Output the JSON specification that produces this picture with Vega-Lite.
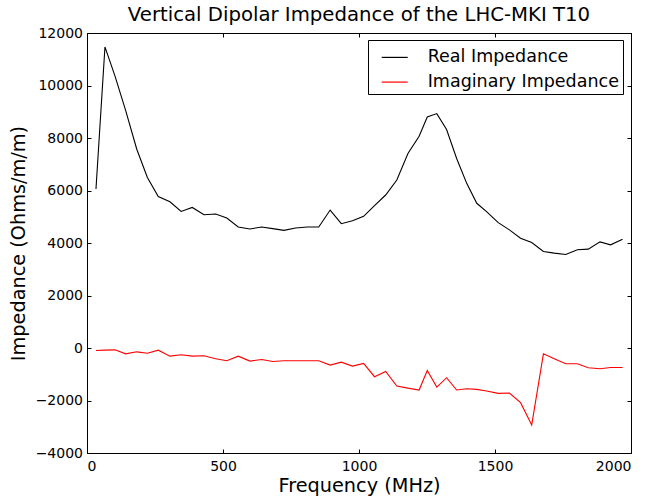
{
  "$schema": "https://vega.github.io/schema/vega-lite/v6.json",
  "width": 544,
  "height": 420,
  "autosize": {"type": "none"},
  "padding": {"left": 87, "top": 33, "right": 23, "bottom": 46},
  "background": "white",
  "title": {"text": "Vertical Dipolar Impedance of the LHC-MKI T10", "fontSize": 19.7, "font": "DejaVu Sans", "fontWeight": "normal", "color": "black", "offset": 1, "anchor": "middle"},
  "config": {
    "view": {"stroke": "black", "strokeWidth": 1},
    "font": "DejaVu Sans",
    "axis": {"grid": false, "domainColor": "black", "tickColor": "black", "labelColor": "black", "titleColor": "black", "labelFont": "DejaVu Sans", "titleFont": "DejaVu Sans", "labelFontSize": 14, "titleFontSize": 19.3, "titleFontWeight": "normal", "tickSize": -4, "labelPadding": 8}
  },
  "datasets": {
    "imp": [
      {"f": 33, "s": "Real Impedance", "z": 6054},
      {"f": 66, "s": "Real Impedance", "z": 11470},
      {"f": 103, "s": "Real Impedance", "z": 10357},
      {"f": 142, "s": "Real Impedance", "z": 9054},
      {"f": 183, "s": "Real Impedance", "z": 7573},
      {"f": 222, "s": "Real Impedance", "z": 6494},
      {"f": 262, "s": "Real Impedance", "z": 5773},
      {"f": 305, "s": "Real Impedance", "z": 5571},
      {"f": 346, "s": "Real Impedance", "z": 5203},
      {"f": 387, "s": "Real Impedance", "z": 5355},
      {"f": 430, "s": "Real Impedance", "z": 5078},
      {"f": 473, "s": "Real Impedance", "z": 5103},
      {"f": 514, "s": "Real Impedance", "z": 4951},
      {"f": 556, "s": "Real Impedance", "z": 4610},
      {"f": 599, "s": "Real Impedance", "z": 4534},
      {"f": 642, "s": "Real Impedance", "z": 4610},
      {"f": 683, "s": "Real Impedance", "z": 4546},
      {"f": 724, "s": "Real Impedance", "z": 4482},
      {"f": 767, "s": "Real Impedance", "z": 4572},
      {"f": 810, "s": "Real Impedance", "z": 4610},
      {"f": 852, "s": "Real Impedance", "z": 4610},
      {"f": 894, "s": "Real Impedance", "z": 5255},
      {"f": 935, "s": "Real Impedance", "z": 4736},
      {"f": 976, "s": "Real Impedance", "z": 4850},
      {"f": 1017, "s": "Real Impedance", "z": 5015},
      {"f": 1057, "s": "Real Impedance", "z": 5423},
      {"f": 1098, "s": "Real Impedance", "z": 5828},
      {"f": 1139, "s": "Real Impedance", "z": 6397},
      {"f": 1180, "s": "Real Impedance", "z": 7410},
      {"f": 1221, "s": "Real Impedance", "z": 8067},
      {"f": 1251, "s": "Real Impedance", "z": 8801},
      {"f": 1286, "s": "Real Impedance", "z": 8930},
      {"f": 1322, "s": "Real Impedance", "z": 8322},
      {"f": 1359, "s": "Real Impedance", "z": 7221},
      {"f": 1396, "s": "Real Impedance", "z": 6272},
      {"f": 1433, "s": "Real Impedance", "z": 5513},
      {"f": 1469, "s": "Real Impedance", "z": 5194},
      {"f": 1512, "s": "Real Impedance", "z": 4776},
      {"f": 1553, "s": "Real Impedance", "z": 4499},
      {"f": 1594, "s": "Real Impedance", "z": 4184},
      {"f": 1635, "s": "Real Impedance", "z": 4017},
      {"f": 1678, "s": "Real Impedance", "z": 3676},
      {"f": 1718, "s": "Real Impedance", "z": 3614},
      {"f": 1760, "s": "Real Impedance", "z": 3561},
      {"f": 1803, "s": "Real Impedance", "z": 3740},
      {"f": 1843, "s": "Real Impedance", "z": 3766},
      {"f": 1886, "s": "Real Impedance", "z": 4043},
      {"f": 1925, "s": "Real Impedance", "z": 3929},
      {"f": 1969, "s": "Real Impedance", "z": 4146},
      {"f": 33, "s": "Imaginary Impedance", "z": -95},
      {"f": 66, "s": "Imaginary Impedance", "z": -82},
      {"f": 103, "s": "Imaginary Impedance", "z": -70},
      {"f": 142, "s": "Imaginary Impedance", "z": -222},
      {"f": 183, "s": "Imaginary Impedance", "z": -146},
      {"f": 222, "s": "Imaginary Impedance", "z": -197},
      {"f": 262, "s": "Imaginary Impedance", "z": -82},
      {"f": 305, "s": "Imaginary Impedance", "z": -310},
      {"f": 346, "s": "Imaginary Impedance", "z": -260},
      {"f": 387, "s": "Imaginary Impedance", "z": -310},
      {"f": 430, "s": "Imaginary Impedance", "z": -297},
      {"f": 473, "s": "Imaginary Impedance", "z": -411},
      {"f": 514, "s": "Imaginary Impedance", "z": -487},
      {"f": 556, "s": "Imaginary Impedance", "z": -310},
      {"f": 599, "s": "Imaginary Impedance", "z": -500},
      {"f": 642, "s": "Imaginary Impedance", "z": -437},
      {"f": 683, "s": "Imaginary Impedance", "z": -513},
      {"f": 724, "s": "Imaginary Impedance", "z": -487},
      {"f": 767, "s": "Imaginary Impedance", "z": -487},
      {"f": 810, "s": "Imaginary Impedance", "z": -487},
      {"f": 852, "s": "Imaginary Impedance", "z": -487},
      {"f": 894, "s": "Imaginary Impedance", "z": -652},
      {"f": 935, "s": "Imaginary Impedance", "z": -538},
      {"f": 976, "s": "Imaginary Impedance", "z": -690},
      {"f": 1017, "s": "Imaginary Impedance", "z": -588},
      {"f": 1057, "s": "Imaginary Impedance", "z": -1094},
      {"f": 1098, "s": "Imaginary Impedance", "z": -892},
      {"f": 1139, "s": "Imaginary Impedance", "z": -1449},
      {"f": 1180, "s": "Imaginary Impedance", "z": -1530},
      {"f": 1221, "s": "Imaginary Impedance", "z": -1601},
      {"f": 1251, "s": "Imaginary Impedance", "z": -854},
      {"f": 1286, "s": "Imaginary Impedance", "z": -1487},
      {"f": 1322, "s": "Imaginary Impedance", "z": -1132},
      {"f": 1359, "s": "Imaginary Impedance", "z": -1601},
      {"f": 1396, "s": "Imaginary Impedance", "z": -1550},
      {"f": 1433, "s": "Imaginary Impedance", "z": -1575},
      {"f": 1469, "s": "Imaginary Impedance", "z": -1639},
      {"f": 1512, "s": "Imaginary Impedance", "z": -1727},
      {"f": 1553, "s": "Imaginary Impedance", "z": -1715},
      {"f": 1594, "s": "Imaginary Impedance", "z": -2082},
      {"f": 1635, "s": "Imaginary Impedance", "z": -2930},
      {"f": 1678, "s": "Imaginary Impedance", "z": -221},
      {"f": 1718, "s": "Imaginary Impedance", "z": -411},
      {"f": 1760, "s": "Imaginary Impedance", "z": -601},
      {"f": 1803, "s": "Imaginary Impedance", "z": -601},
      {"f": 1843, "s": "Imaginary Impedance", "z": -753},
      {"f": 1886, "s": "Imaginary Impedance", "z": -791},
      {"f": 1925, "s": "Imaginary Impedance", "z": -740},
      {"f": 1969, "s": "Imaginary Impedance", "z": -740}
    ]
  },
  "data": {"name": "imp"},
  "layer": [
    {
      "mark": {"type": "line", "strokeWidth": 1.1, "clip": true},
      "encoding": {
        "x": {"field": "f", "type": "quantitative", "scale": {"domain": [0, 2000], "nice": false, "zero": false}, "axis": {"title": "Frequency (MHz)", "values": [0, 500, 1000, 1500, 2000], "format": "d", "titlePadding": 2.5, "labelPadding": 10.5}},
        "y": {"field": "z", "type": "quantitative", "scale": {"domain": [-4000, 12000], "nice": false}, "axis": {"title": "Impedance (Ohms/m/m)", "values": [-4000, -2000, 0, 2000, 4000, 6000, 8000, 10000, 12000], "format": "d", "titlePadding": 6.5, "labelPadding": 8.5}},
        "color": {"field": "s", "type": "nominal", "scale": {"domain": ["Real Impedance", "Imaginary Impedance"], "range": ["black", "red"]}, "legend": {"title": null, "orient": "none", "legendX": 281, "legendY": 7, "strokeColor": "black", "fillColor": "white", "padding": 3.4, "symbolOffset": 9.3, "symbolType": "stroke", "symbolSize": 676, "symbolStrokeWidth": 1.2, "labelFontSize": 17.5, "labelFont": "DejaVu Sans", "labelColor": "black", "labelLimit": 400, "rowPadding": 1.7, "labelOffset": 19, "cornerRadius": 0}}
      }
    },
    {
      "mark": {"type": "line", "opacity": 0},
      "encoding": {
        "x": {"field": "f", "type": "quantitative", "scale": {"domain": [0, 2000], "nice": false, "zero": false}, "axis": {"orient": "top", "title": null, "labels": false, "values": [0, 500, 1000, 1500, 2000]}},
        "y": {"field": "z", "type": "quantitative", "scale": {"domain": [-4000, 12000], "nice": false}, "axis": {"orient": "right", "title": null, "labels": false, "values": [-4000, -2000, 0, 2000, 4000, 6000, 8000, 10000, 12000]}}
      }
    }
  ],
  "resolve": {"scale": {"x": "independent", "y": "independent"}, "axis": {"x": "independent", "y": "independent"}}
}
